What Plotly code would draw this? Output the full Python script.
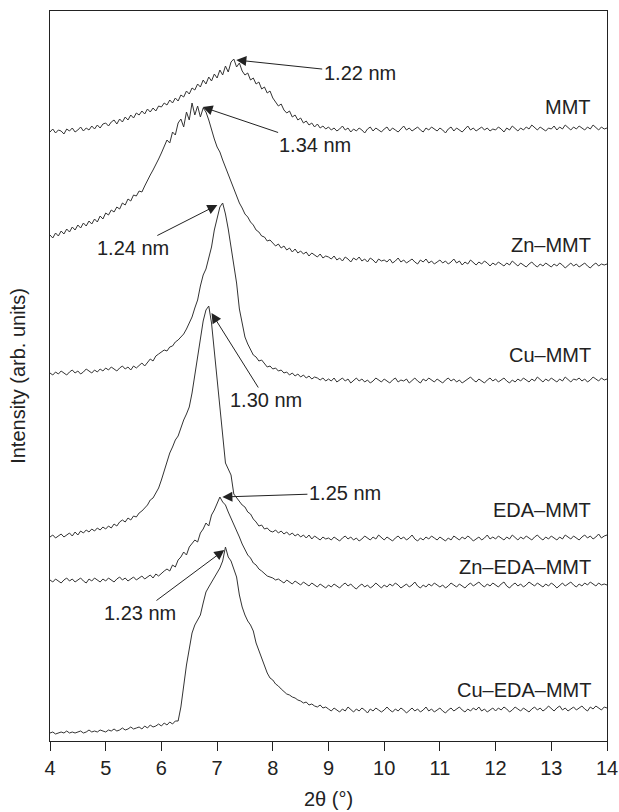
import numpy as np
import plotly.graph_objects as go

# 2θ grid (degrees), 0.05° step
two_theta = np.linspace(4.0, 14.0, 201)

# Stacked intensities (arb. units); one row per degree
mmt = [609,612,608,611,610,607,612,610,613,609,611,614,610,613,611,615,612,616,613,617,
       618,615,619,621,617,622,619,624,621,626,623,628,626,630,627,632,629,633,630,635,
       634,638,636,641,638,643,640,646,644,650,647,653,651,657,654,661,657,664,660,667,
       663,671,666,675,669,679,682,674,678,670,666,668,661,663,657,659,652,654,648,650,
       643,639,635,637,631,628,630,624,626,621,623,618,620,616,618,614,617,613,615,612,
       614,611,613,610,612,615,611,613,609,612,610,613,611,608,612,614,610,613,611,609,
       612,614,610,613,611,609,612,615,611,613,610,612,614,611,609,613,611,614,612,610,
       613,611,608,612,614,610,613,611,609,612,615,611,613,610,612,614,611,613,610,612,
       611,614,612,609,613,611,615,612,610,613,611,614,612,616,613,611,614,612,610,613,
       612,615,611,614,612,616,613,611,614,612,615,613,611,614,612,616,613,611,614,612,
       613]

zn_mmt = [506,503,508,505,510,507,512,509,514,511,516,513,518,515,520,517,522,519,525,522,
          528,526,531,529,534,532,538,536,542,540,546,545,550,549,555,561,566,571,576,582,
          588,594,601,598,609,606,618,622,614,629,621,638,626,635,624,633,629,621,610,602,
          594,589,581,574,566,558,553,545,538,533,527,524,519,516,511,509,505,504,500,501,
          498,495,497,493,495,491,493,489,492,488,490,487,489,485,488,486,484,487,483,485,
          484,482,485,481,483,480,484,482,479,483,481,484,480,482,479,483,481,478,482,480,
          481,479,482,478,480,483,479,481,478,480,482,479,477,481,479,482,478,480,477,479,
          481,478,480,477,479,482,478,480,476,479,477,481,478,476,479,477,480,478,475,478,
          476,479,477,475,478,476,480,477,475,478,476,474,477,479,476,474,477,475,478,476,
          474,477,475,478,476,473,476,478,475,477,474,476,478,475,473,476,478,475,477,476,
          477]

cu_mmt = [368,366,369,367,370,368,366,369,371,368,370,367,369,372,370,368,371,369,372,370,
          373,371,374,372,370,373,375,372,374,371,375,373,376,378,375,379,382,380,385,387,
          389,391,390,394,395,399,401,404,407,412,418,424,433,441,455,466,472,483,494,511,
          522,534,538,527,512,494,476,458,432,416,404,397,391,386,384,380,381,377,374,375,
          372,373,370,371,368,369,366,368,365,367,364,366,363,365,362,364,363,361,363,360,
          362,360,363,359,361,363,360,362,358,361,363,360,362,359,361,358,360,363,361,359,
          362,360,358,361,363,359,361,360,362,358,361,363,360,358,362,360,363,361,359,362,
          360,358,361,363,360,362,359,361,358,360,362,364,361,359,362,360,358,361,363,360,
          362,359,361,363,360,358,361,359,362,360,363,361,359,362,360,364,361,359,362,360,
          363,361,359,362,360,364,361,359,362,361,363,360,362,359,361,364,362,360,363,361,
          362]

eda_mmt = [204,206,203,205,207,204,206,208,205,209,206,210,208,211,209,212,210,213,211,214,
           212,215,213,217,215,219,221,219,223,221,225,224,228,230,233,236,241,243,248,253,
           261,270,279,288,294,301,305,314,321,327,334,348,366,384,402,420,431,435,418,390,
           356,330,302,278,272,266,247,243,240,236,234,229,227,222,219,215,216,212,213,210,
           209,211,208,210,207,209,206,208,205,207,204,206,203,206,202,205,203,201,204,202,
           203,201,204,202,200,203,205,202,204,201,203,200,202,205,203,201,204,202,206,203,
           201,204,202,200,203,205,202,204,201,203,206,202,200,203,201,204,202,205,203,201,
           204,202,200,203,201,205,203,201,204,202,205,203,200,202,204,201,203,206,202,204,
           202,205,203,201,204,202,206,203,201,204,202,205,203,201,204,206,203,201,204,202,
           205,203,201,204,202,206,204,202,205,203,201,204,206,203,205,202,204,207,203,205,
           206]

zn_eda_mmt = [161,159,162,160,158,161,163,160,162,159,161,163,160,158,162,160,163,161,159,162,
              160,163,161,159,162,164,161,163,160,162,164,161,163,165,162,164,166,163,167,165,
              168,170,172,170,176,174,181,184,189,186,194,197,201,199,208,212,218,215,226,231,
              237,244,239,236,229,223,217,210,204,197,192,186,183,178,176,172,170,167,165,164,
              163,161,162,160,158,161,159,157,160,158,156,159,157,155,158,156,154,157,155,153,
              156,154,157,155,153,156,158,155,157,154,152,155,157,154,156,153,155,158,155,153,
              156,154,157,155,158,156,153,155,157,154,156,159,155,153,156,154,157,155,158,156,
              154,156,153,155,158,156,154,157,155,153,156,158,155,157,159,156,154,157,155,158,
              156,154,157,159,155,153,156,158,155,157,154,156,159,157,155,158,156,154,157,155,
              158,156,153,156,158,155,157,159,156,154,157,155,158,156,159,157,155,158,156,157,
              156]

cu_eda_mmt = [8,9,7,8,9,8,10,8,9,8,9,10,8,9,11,9,10,9,11,10,
              9,11,10,12,10,11,13,11,12,14,12,13,14,12,15,13,16,14,15,17,
              15,18,16,19,17,20,20,34,58,76,92,108,116,121,126,138,149,154,159,164,
              168,173,180,194,184,180,172,164,146,134,126,120,116,110,98,90,82,74,68,63,
              61,57,55,52,49,47,46,44,43,41,40,38,39,36,37,35,34,36,33,34,
              32,30,33,31,29,32,30,34,31,29,32,30,33,31,28,32,30,33,31,29,
              31,34,31,29,32,30,33,31,28,31,33,30,32,29,31,34,30,32,29,31,
              33,30,28,31,33,30,32,34,31,29,32,30,33,31,34,30,32,29,31,33,
              30,33,31,34,32,29,31,34,32,30,33,31,29,32,34,31,33,30,32,35,
              32,30,33,35,31,33,30,32,34,31,33,35,32,30,34,32,35,33,31,34,
              33]

series_names = ["MMT", "Zn–MMT", "Cu–MMT", "EDA–MMT", "Zn–EDA–MMT", "Cu–EDA–MMT"]
series_values = [mmt, zn_mmt, cu_mmt, eda_mmt, zn_eda_mmt, cu_eda_mmt]
peak_labels = ["1.22 nm", "1.34 nm", "1.24 nm", "1.30 nm", "1.25 nm", "1.23 nm"]
x_ticks = [4, 5, 6, 7, 8, 9, 10, 11, 12, 13, 14]

for v in series_values:
    assert len(v) == len(two_theta), len(v)

# ---- layout/style settings ----
label_y = [634, 496, 386, 231, 174, 51]          # curve-name label positions
text_pos = [(9.56, 668), (8.76, 596), (5.485, 493), (7.88, 341), (9.295, 248), (5.61, 128)]
tip_offset = [(0.045, -1), (0.19, -4), (-0.095, -2), (0.05, -7), (0.045, 0), (-0.02, -3)]

ink = "#222222"
fig = go.Figure()
for name, vals in zip(series_names, series_values):
    fig.add_trace(go.Scatter(x=two_theta, y=vals, mode="lines", name=name,
                             line=dict(color="#333333", width=1)))

annotations = []
for name, ly in zip(series_names, label_y):
    annotations.append(dict(x=13.75, y=ly, xref="x", yref="y", text=name,
                            showarrow=False, xanchor="right", yanchor="middle",
                            font=dict(size=20, color=ink)))

for lab, vals, (tx, ty), (dx, dy) in zip(peak_labels, series_values, text_pos, tip_offset):
    i = int(np.argmax(vals))
    annotations.append(dict(x=float(two_theta[i]) + dx, y=vals[i] + dy, xref="x", yref="y",
                            ax=tx, ay=ty, axref="x", ayref="y", text=lab,
                            showarrow=True, arrowhead=2, arrowsize=2, arrowwidth=1,
                            arrowcolor=ink, standoff=0, startstandoff=0,
                            font=dict(size=20, color=ink)))

fig.update_layout(
    width=619, height=812,
    margin=dict(l=50, r=12, t=11, b=71, autoexpand=False),
    plot_bgcolor="white", paper_bgcolor="white",
    showlegend=False,
    font=dict(family="Liberation Sans, Arial, sans-serif", size=20, color=ink),
    annotations=annotations,
    xaxis=dict(range=[4, 14], tickmode="array", tickvals=x_ticks,
               ticktext=[str(t) for t in x_ticks], ticklabeloverflow="allow",
               automargin=False,
               ticks="outside", ticklen=9, tickwidth=1, tickcolor=ink,
               showline=True, linecolor=ink, linewidth=1, mirror=True,
               showgrid=False, zeroline=False,
               tickfont=dict(size=20, color=ink),
               title=dict(text="2θ (°)", standoff=13, font=dict(size=20, color=ink))),
    yaxis=dict(range=[0, 730], showticklabels=False, ticks="", automargin=False,
               showline=True, linecolor=ink, linewidth=1, mirror=True,
               showgrid=False, zeroline=False,
               title=dict(text="Intensity (arb. units)", standoff=18,
                          font=dict(size=20, color=ink))),
)

fig.write_html("out.html")
